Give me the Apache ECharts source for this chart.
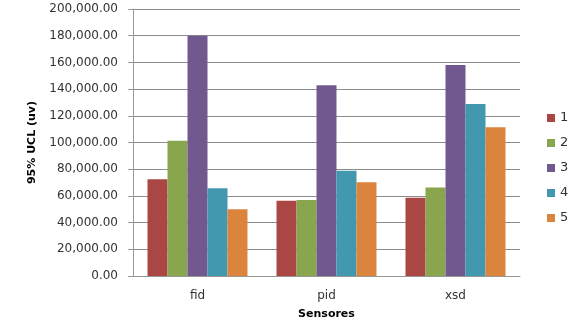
<!DOCTYPE html>
<html>
<head>
<meta charset="utf-8">
<script src="https://cdn.jsdelivr.net/npm/echarts@6/dist/echarts.min.js"></script>
<style>html,body{margin:0;padding:0;background:#fff;}#c{width:581px;height:321px;}</style>
</head>
<body>
<div id="c"></div>
<script>
const categories = ['fid', 'pid', 'xsd'];
const seriesNames = ['1', '2', '3', '4', '5'];
const s1 = [72400, 56400, 58700];
const s2 = [101300, 56900, 66200];
const s3 = [180000, 142800, 158000];
const s4 = [65700, 78900, 128800];
const s5 = [50000, 70200, 111400];
const colors = ['#AA4643', '#89A54E', '#71588F', '#4198AF', '#DB843D'];

const values = [s1, s2, s3, s4, s5];
const chart = echarts.init(document.getElementById('c'));
chart.setOption({
  animation: false,
  color: colors,
  grid: { left: 133, right: 61, top: 9, bottom: 45, containLabel: false, outerBoundsMode: 'none', show: false },
  legend: {
    orient: 'vertical', left: 542, top: 106,
    itemWidth: 8, itemHeight: 8, itemGap: 11,
    icon: 'rect',
    textStyle: { fontFamily: 'DejaVu Sans', fontSize: 13, color: '#333', lineHeight: 14 },
    data: seriesNames
  },
  xAxis: {
    type: 'category', data: categories,
    name: 'Sensores', nameLocation: 'middle', nameGap: 33,
    nameTextStyle: { fontFamily: 'DejaVu Sans', fontSize: 11, fontWeight: 'bold', color: '#000' },
    axisLine: { lineStyle: { color: '#999', width: 1 } },
    axisTick: { show: false },
    splitLine: { show: false },
    axisLabel: { fontFamily: 'DejaVu Sans', fontSize: 12, color: '#333', margin: 14 }
  },
  yAxis: {
    type: 'value', min: 0, max: 200000, interval: 20000,
    name: '95% UCL (uv)', nameLocation: 'middle', nameGap: 95, nameRotate: 90,
    nameTextStyle: { fontFamily: 'DejaVu Sans', fontSize: 11, fontWeight: 'bold', color: '#000' },
    axisLine: { show: true, lineStyle: { color: '#999', width: 1 } },
    axisTick: { show: true, length: 5, lineStyle: { color: '#999' } },
    splitLine: { show: true, lineStyle: { color: '#8c8c8c', width: 1 } },
    axisLabel: {
      fontFamily: 'DejaVu Sans', fontSize: 12, color: '#333', margin: 15,
      formatter: v => v.toLocaleString('en-US', { minimumFractionDigits: 2, maximumFractionDigits: 2 })
    }
  },
  series: seriesNames.map((n, i) => ({
    name: n, type: 'bar', data: values[i],
    barGap: '0%', barCategoryGap: '22.5%',
    itemStyle: { color: colors[i] }
  }))
});
</script>
</body>
</html>
